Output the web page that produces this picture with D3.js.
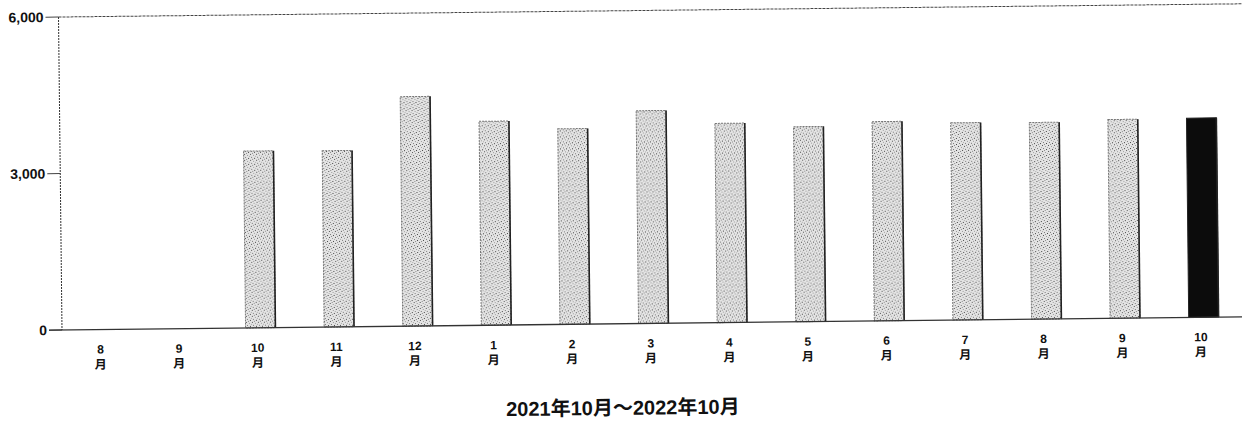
<!DOCTYPE html>
<html>
<head>
<meta charset="utf-8">
<script src="https://cdn.jsdelivr.net/npm/d3@7"></script>
<style>
  html, body { margin: 0; padding: 0; background: #fff; }
  svg { display: block; }
</style>
</head>
<body>
<svg id="chart" width="1242" height="426"></svg>
<script>
// ---- data ----
const categories = ["2021-08","2021-09","2021-10","2021-11","2021-12","2022-01","2022-02","2022-03","2022-04","2022-05","2022-06","2022-07","2022-08","2022-09","2022-10"];
const monthLabels = ["8","9","10","11","12","1","2","3","4","5","6","7","8","9","10"];
const values = [0, 0, 3390, 3380, 4400, 3910, 3750, 4080, 3820, 3740, 3820, 3780, 3770, 3810, 3820];
const yTicks = [0, 3000, 6000];
const title = "2021年10月～2022年10月";
const highlightIndex = 14;

// ---- layout ----
const svg = d3.select("#chart");
const W = 1242;
const pivotX = 62, baseY = 330, topY = 17;

const defs = svg.append("defs");
const pat = defs.append("pattern")
  .attr("id", "stipple").attr("patternUnits", "userSpaceOnUse")
  .attr("width", 6).attr("height", 6);
pat.append("rect").attr("width", 6).attr("height", 6).attr("fill", "#e4e4e4");
[[0,0,"#555"],[3,1,"#999"],[1,3,"#777"],[4,4,"#444"],[5,2,"#aaa"],[2,5,"#888"]].forEach(d => {
  pat.append("rect").attr("x", d[0]).attr("y", d[1]).attr("width", 1).attr("height", 1).attr("fill", d[2]);
});

const g = svg.append("g").attr("transform", `rotate(-0.64, ${pivotX}, ${baseY})`);

const x = d3.scaleBand().domain(categories).range([64, 1243]).paddingInner(0.62).paddingOuter(0.31);
const y = d3.scaleLinear().domain([0, 6000]).range([baseY, topY]);

// top frame line (at 6000)
g.append("line")
  .attr("x1", pivotX).attr("x2", W + 10)
  .attr("y1", y(6000)).attr("y2", y(6000))
  .attr("stroke", "#444").attr("stroke-width", 1).attr("stroke-dasharray", "3,1");

// y axis line
g.append("line")
  .attr("x1", pivotX).attr("x2", pivotX)
  .attr("y1", y(6000)).attr("y2", y(0))
  .attr("stroke", "#333").attr("stroke-width", 1).attr("stroke-dasharray", "2,1");

// y ticks + labels
const yAxis = g.append("g");
yAxis.selectAll("line.tick").data(yTicks).join("line")
  .attr("class", "tick")
  .attr("x1", 49).attr("x2", pivotX)
  .attr("y1", d => y(d)).attr("y2", d => y(d))
  .attr("stroke", "#444").attr("stroke-width", 1);
yAxis.selectAll("text").data(yTicks).join("text")
  .attr("x", 47).attr("y", d => y(d)).attr("dy", "0.35em")
  .attr("text-anchor", "end")
  .attr("font-family", "Liberation Sans, Arial, sans-serif")
  .attr("font-size", 14).attr("font-weight", "bold")
  .attr("fill", "#111")
  .text(d => d3.format(",")(d));

// bars
const bars = g.append("g");
bars.selectAll("rect").data(values).join("rect")
  .attr("x", (d, i) => x(categories[i]))
  .attr("y", d => y(d))
  .attr("width", x.bandwidth())
  .attr("height", d => y(0) - y(d))
  .attr("fill", (d, i) => i === highlightIndex ? "#0c0c0c" : "url(#stipple)")
  .attr("stroke", (d, i) => i === highlightIndex ? "#222" : "#777")
  .attr("stroke-width", 1)
  .attr("stroke-dasharray", (d, i) => i === highlightIndex ? null : "2,1")
  .attr("display", d => d > 0 ? null : "none");
bars.selectAll("line").data(values).join("line")
  .attr("x1", (d, i) => x(categories[i]) + x.bandwidth())
  .attr("x2", (d, i) => x(categories[i]) + x.bandwidth())
  .attr("y1", d => y(d)).attr("y2", y(0))
  .attr("stroke", "#222").attr("stroke-width", 1.6)
  .attr("display", d => d > 0 ? null : "none");

// baseline
g.append("line")
  .attr("x1", 49).attr("x2", W + 10)
  .attr("y1", y(0)).attr("y2", y(0))
  .attr("stroke", "#333").attr("stroke-width", 1.3);

// x labels
const xl = g.append("g");
const xlab = xl.selectAll("g").data(categories).join("g")
  .attr("transform", (d) => `translate(${x(d) + x.bandwidth() / 2 - 3},0)`);
xlab.append("text")
  .attr("y", 354).attr("text-anchor", "middle")
  .attr("font-family", "Liberation Sans, Arial, sans-serif")
  .attr("font-size", 12).attr("font-weight", "bold").attr("fill", "#111")
  .text((d, i) => monthLabels[i]);
xlab.append("text")
  .attr("y", 369).attr("text-anchor", "middle")
  .attr("font-family", "Noto Sans CJK JP, sans-serif")
  .attr("font-size", 12).attr("font-weight", "bold").attr("fill", "#111")
  .text("月");

// title
g.append("text")
  .attr("x", 622).attr("y", 421).attr("text-anchor", "middle")
  .attr("font-family", "Liberation Sans, 'Noto Sans CJK JP', sans-serif")
  .attr("font-size", 20).attr("font-weight", "bold").attr("fill", "#111")
  .text(title);
</script>
</body>
</html>
